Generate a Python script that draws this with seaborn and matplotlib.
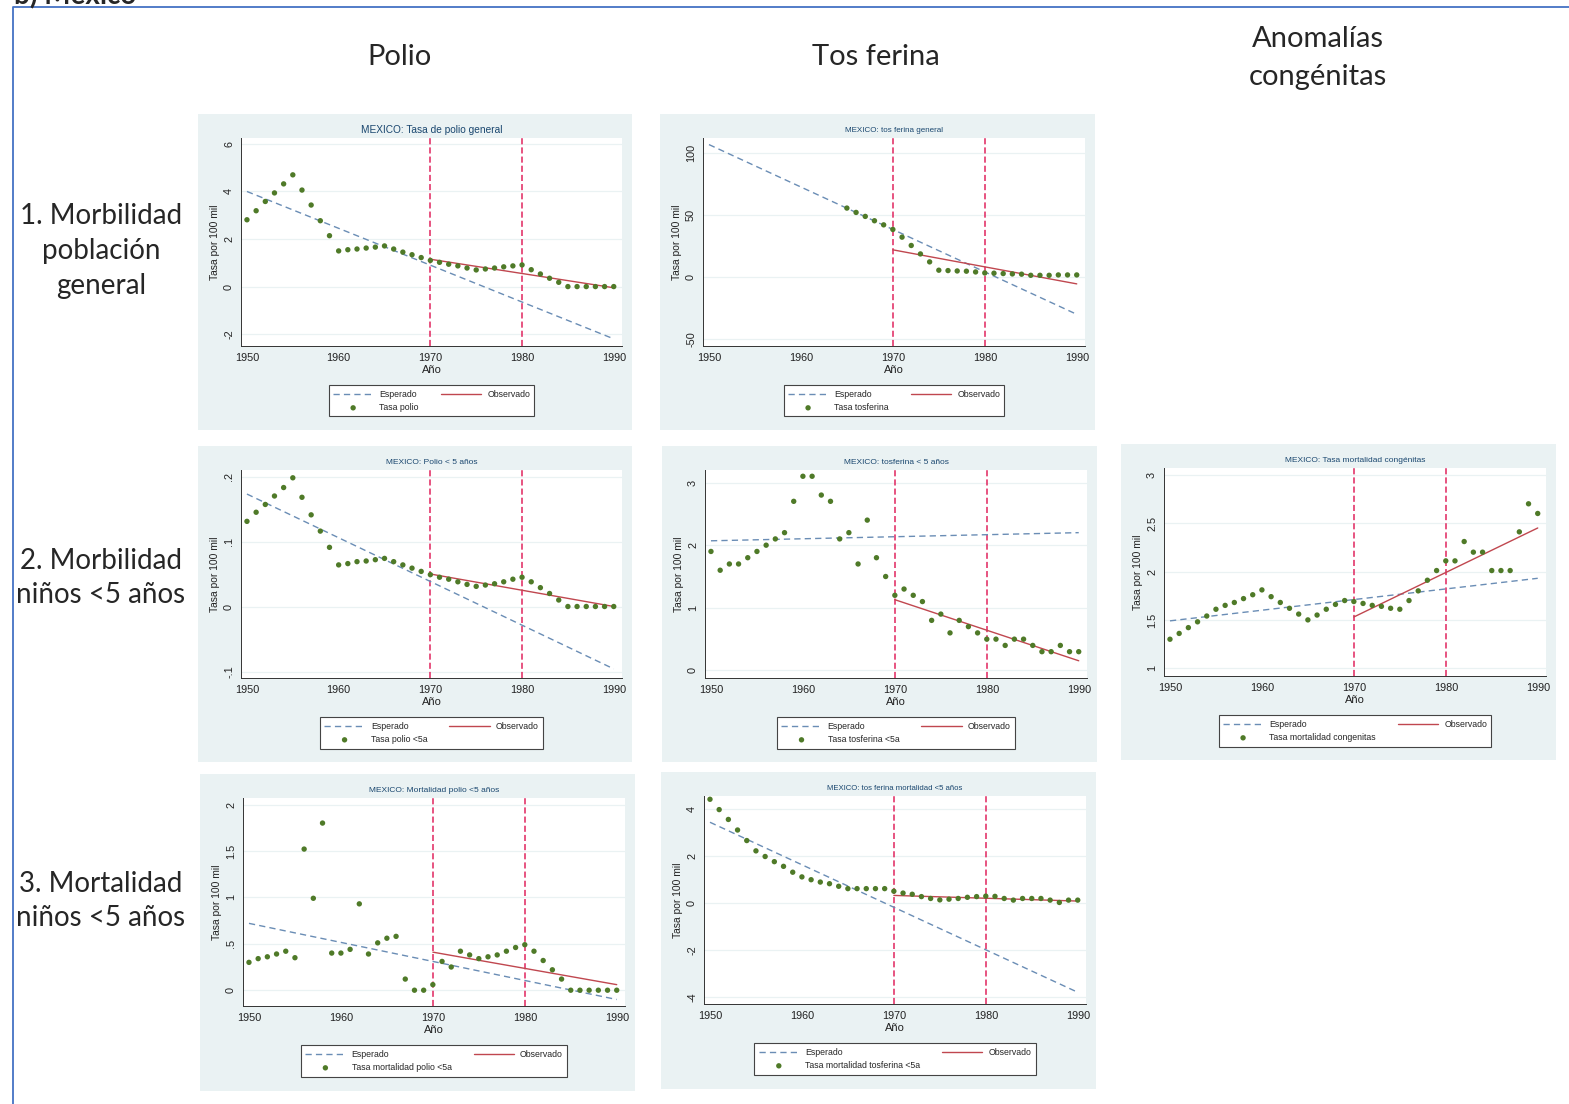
import numpy as np
import pandas as pd
import seaborn as sns
import matplotlib
matplotlib.use('Agg')
import matplotlib.pyplot as plt
from matplotlib.patches import Rectangle

# ---- data ----
years = np.arange(1950, 1991)
years_tf = np.arange(1965, 1991)
ref_years = [1970, 1980]
trend_years_esp = [1950, 1990]
trend_years_obs = [1970, 1990]

polio_gen = [2.81, 3.19, 3.58, 3.94, 4.32, 4.70, 4.06, 3.43, 2.77, 2.14,
             1.50, 1.55, 1.58, 1.62, 1.66, 1.71, 1.58, 1.45, 1.34, 1.22,
             1.10, 1.02, 0.94, 0.87, 0.78, 0.70, 0.74, 0.78, 0.83, 0.87,
             0.91, 0.71, 0.53, 0.35, 0.18, 0, 0, 0, 0, 0, 0]
tosf_gen = [55.4, 51.9, 48.7, 45.2, 41.9, 38.2, 32.0, 25.3, 18.5, 12.1,
            5.4, 5.1, 4.8, 4.6, 4.0, 3.2, 3.0, 2.7, 2.4, 2.2,
            1.3, 1.3, 1.3, 1.6, 1.6, 1.6]
polio_u5 = [0.131, 0.145, 0.157, 0.170, 0.183, 0.198, 0.168, 0.141, 0.116, 0.091,
            0.064, 0.066, 0.069, 0.070, 0.072, 0.074, 0.069, 0.064, 0.059, 0.054,
            0.049, 0.045, 0.042, 0.038, 0.034, 0.031, 0.033, 0.035, 0.038, 0.042,
            0.045, 0.038, 0.029, 0.020, 0.010, 0, 0, 0, 0, 0, 0]
tosf_u5 = [1.9, 1.6, 1.7, 1.7, 1.8, 1.9, 2.0, 2.1, 2.2, 2.7,
           3.1, 3.1, 2.8, 2.7, 2.1, 2.2, 1.7, 2.4, 1.8, 1.5,
           1.2, 1.3, 1.2, 1.1, 0.8, 0.9, 0.6, 0.8, 0.7, 0.6,
           0.5, 0.5, 0.4, 0.5, 0.5, 0.4, 0.3, 0.3, 0.4, 0.3, 0.3]
cong = [1.30, 1.36, 1.42, 1.48, 1.54, 1.61, 1.65, 1.68, 1.72, 1.76,
        1.81, 1.74, 1.68, 1.62, 1.56, 1.50, 1.55, 1.61, 1.66, 1.70,
        1.69, 1.67, 1.65, 1.64, 1.62, 1.61, 1.70, 1.80, 1.91, 2.01,
        2.11, 2.11, 2.31, 2.20, 2.20, 2.01, 2.01, 2.01, 2.41, 2.70, 2.60]
mort_polio = [0.30, 0.34, 0.36, 0.39, 0.42, 0.35, 1.52, 0.99, 1.80, 0.40,
              0.40, 0.44, 0.93, 0.39, 0.51, 0.56, 0.58, 0.12, 0.0, 0.0,
              0.06, 0.31, 0.25, 0.42, 0.38, 0.34, 0.36, 0.38, 0.42, 0.46,
              0.49, 0.42, 0.32, 0.22, 0.12, 0, 0, 0, 0, 0, 0]
mort_tosf = [4.43, 3.99, 3.57, 3.12, 2.67, 2.23, 1.99, 1.77, 1.57, 1.32,
             1.12, 1.00, 0.90, 0.83, 0.72, 0.62, 0.62, 0.62, 0.62, 0.62,
             0.51, 0.43, 0.38, 0.28, 0.20, 0.14, 0.17, 0.20, 0.25, 0.28,
             0.30, 0.29, 0.20, 0.13, 0.20, 0.20, 0.20, 0.13, 0.03, 0.13, 0.13]

# fitted trend endpoints (Esperado 1950-1990, Observado 1970-1990)
esp_polio_gen, obs_polio_gen = [4.0, -2.2], [1.15, -0.05]
esp_tosf_gen, obs_tosf_gen = [106.5, -30.1], [21.8, -5.6]
esp_polio_u5, obs_polio_u5 = [0.173, -0.096], [0.050, 0.0]
esp_tosf_u5, obs_tosf_u5 = [2.07, 2.20], [1.13, 0.155]
esp_cong, obs_cong = [1.49, 1.93], [1.53, 2.45]
esp_mort_polio, obs_mort_polio = [0.72, -0.10], [0.41, 0.06]
esp_mort_tosf, obs_mort_tosf = [3.45, -3.80], [0.33, 0.09]

col_headers = ['Polio', 'Tos ferina', 'Anomalías\ncongénitas']
row_labels = ['1. Morbilidad\npoblación\ngeneral', '2. Morbilidad\nniños <5 años',
              '3. Mortalidad\nniños <5 años']

W, H = 1569, 1104
sns.set_style('white')
plt.rcParams['font.family'] = ['Liberation Sans', 'DejaVu Sans']

fig = plt.figure(figsize=(W / 100, H / 100), dpi=100)

BG = '#EAF2F3'
C_ESP = '#6a8db5'
C_OBS = '#c0474f'
C_REF = '#e0245e'
C_DOT = '#4f7a28'
C_TITLE = '#1a476f'


def fx(x):
    return x / W


def fy(y):
    return 1 - y / H


def panel(box, title, tsize, xs, ys, esp, obs, lab, ylim, ticks, tlabels):
    x0, y0, x1, y1 = box
    fig.add_artist(Rectangle((fx(x0), fy(y1)), fx(x1 - x0), (y1 - y0) / H,
                             transform=fig.transFigure, facecolor=BG,
                             edgecolor='none', zorder=0))
    al, ar, at, ab = x0 + 43, x1 - 10, y0 + 24, y0 + 232
    ax = fig.add_axes([fx(al), fy(ab), fx(ar - al), (ab - at) / H])
    ax.set_facecolor('white')
    for r in ref_years:
        ax.axvline(r, color=C_REF, lw=1.1, ls=(0, (4, 2)), zorder=2)
    sns.lineplot(x=trend_years_esp, y=esp, ax=ax, color=C_ESP, lw=1.0,
                 label='Esperado', zorder=3)
    ax.lines[-1].set_linestyle((0, (4.5, 3)))
    sns.lineplot(x=trend_years_obs, y=obs, ax=ax, color=C_OBS, lw=1.0,
                 label='Observado', zorder=3)
    df = pd.DataFrame({'year': xs, 'val': ys})
    sns.scatterplot(data=df, x='year', y='val', ax=ax, color=C_DOT, s=15,
                    edgecolor='none', label=lab, zorder=4)
    ax.set_xlim(1949.35, 1990.9)
    ax.set_ylim(*ylim)
    ax.set_xticks([1950, 1960, 1970, 1980, 1990])
    ax.set_yticks(ticks)
    ax.set_yticklabels(tlabels, rotation=90, va='center')
    ax.tick_params(axis='both', labelsize=7.8, length=3, width=0.7, pad=2,
                   colors='#222222', direction='out')
    ax.yaxis.grid(True, color=BG, lw=0.9)
    ax.xaxis.grid(False)
    for s in ['top', 'right']:
        ax.spines[s].set_visible(False)
    for s in ['left', 'bottom']:
        ax.spines[s].set_color('#333333')
        ax.spines[s].set_linewidth(0.7)
    ax.set_xlabel('Año', fontsize=8, labelpad=1.5, color='#222222')
    ax.set_ylabel('Tasa por 100 mil', fontsize=7.4, labelpad=3, color='#222222')
    fig.text(fx((al + ar) / 2), fy(y0 + 16), title, fontsize=tsize,
             color=C_TITLE, ha='center', va='center')
    h, l = ax.get_legend_handles_labels()
    ax.legend([h[0], h[2], h[1]], [l[0], l[2], l[1]], ncol=2,
              loc='upper center', bbox_to_anchor=(fx((al + ar) / 2), fy(y0 + 267)),
              bbox_transform=fig.transFigure, fontsize=6.3, frameon=True,
              fancybox=False, edgecolor='#444444', framealpha=1,
              handlelength=4.6, handletextpad=0.7, columnspacing=2.5,
              borderpad=0.5, labelspacing=0.5, scatterpoints=1)
    ax.get_legend().get_frame().set_linewidth(0.8)
    return ax


panel((198, 114, 632, 430), 'MEXICO: Tasa de polio general', 7.3, years, polio_gen,
      esp_polio_gen, obs_polio_gen, 'Tasa polio', (-2.5, 6.25),
      [-2, 0, 2, 4, 6], ['-2', '0', '2', '4', '6'])
panel((660, 114, 1095, 430), 'MEXICO: tos ferina general', 5.8, years_tf, tosf_gen,
      esp_tosf_gen, obs_tosf_gen, 'Tasa tosferina', (-55.6, 111.8),
      [-50, 0, 50, 100], ['-50', '0', '50', '100'])
panel((198, 446, 632, 762), 'MEXICO: Polio < 5 años', 6.0, years, polio_u5,
      esp_polio_u5, obs_polio_u5, 'Tasa polio <5a', (-0.110, 0.210),
      [-0.1, 0, 0.1, 0.2], ['-.1', '0', '.1', '.2'])
panel((662, 446, 1097, 762), 'MEXICO: tosferina < 5 años', 6.0, years, tosf_u5,
      esp_tosf_u5, obs_tosf_u5, 'Tasa tosferina <5a', (-0.12, 3.20),
      [0, 1, 2, 3], ['0', '1', '2', '3'])
panel((1121, 444, 1556, 760), 'MEXICO: Tasa mortalidad congénitas', 6.0, years, cong,
      esp_cong, obs_cong, 'Tasa mortalidad congenitas', (0.92, 3.07),
      [1, 1.5, 2, 2.5, 3], ['1', '1.5', '2', '2.5', '3'])
panel((200, 774, 635, 1091), 'MEXICO: Mortalidad polio <5 años', 6.0, years, mort_polio,
      esp_mort_polio, obs_mort_polio, 'Tasa mortalidad polio <5a', (-0.17, 2.07),
      [0, 0.5, 1, 1.5, 2], ['0', '.5', '1', '1.5', '2'])
panel((661, 772, 1096, 1089), 'MEXICO: tos ferina mortalidad <5 años', 5.6, years, mort_tosf,
      esp_mort_tosf, obs_mort_tosf, 'Tasa mortalidad tosferina <5a', (-4.30, 4.57),
      [-4, -2, 0, 2, 4], ['-4', '-2', '0', '2', '4'])

# headers and row labels
hfont = ['Lato', 'DejaVu Sans']
for x, y, t in zip([400, 876, 1318], [57, 57, 58], col_headers):
    fig.text(fx(x), fy(y), t, fontsize=21, family=hfont, ha='center', va='center',
             linespacing=1.6)
for y, t in zip([251, 578, 901], row_labels):
    fig.text(fx(101), fy(y), t, fontsize=20, family=hfont, ha='center', va='center',
             linespacing=1.42)

# outer frame and cut-off heading
fig.add_artist(plt.Line2D([fx(13), fx(13), fx(W)], [0, fy(7), fy(7)],
                          transform=fig.transFigure, color='#4472C4', lw=1.3))
fig.text(fx(14), fy(4), 'b) México', fontsize=20, family=hfont, ha='left',
         va='baseline', fontweight='bold')

fig.savefig('out.png', dpi=100)
